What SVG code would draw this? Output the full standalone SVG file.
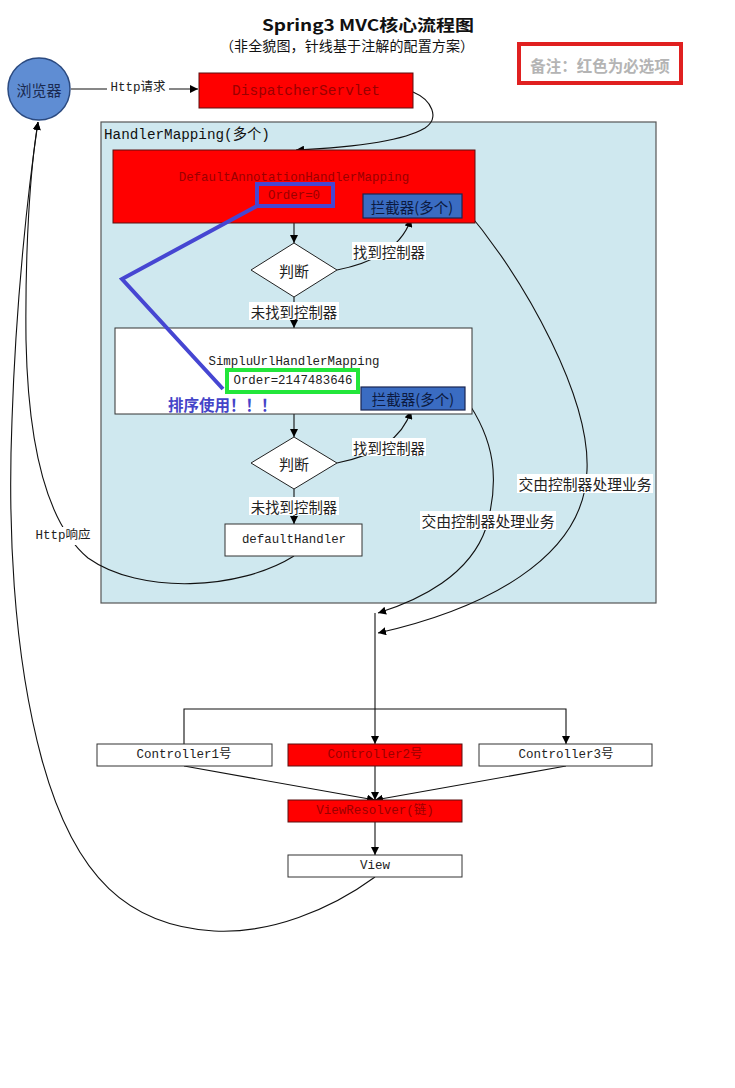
<svg xmlns="http://www.w3.org/2000/svg" width="735" height="1088" viewBox="0 0 735 1088">
<defs>
<marker id="arr" viewBox="0 0 10 10" refX="10" refY="5" markerWidth="8" markerHeight="8" markerUnits="userSpaceOnUse" orient="auto">
<path d="M0,0 L10,5 L0,10 Z" fill="#000"/>
</marker>
<style>
.ln{fill:none;stroke:#111;stroke-width:1.1}
.mono{font-family:"Liberation Mono","Noto Sans CJK SC",monospace;text-anchor:middle;dominant-baseline:central}
.cjk{font-family:"Noto Sans CJK SC","Liberation Sans",sans-serif;text-anchor:middle;dominant-baseline:central}
.red{fill:#ff0000;stroke:#5a1010;stroke-width:1}
.wht{fill:#fff;stroke:#333;stroke-width:1}
.icp{fill:#3a6cc2;stroke:#1a2550;stroke-width:1.2}
.lbl{fill:#fff}
.redtx{fill:#9a0000}
</style>
</defs>
<rect width="735" height="1088" fill="#fff"/>

<g id="title">
<text class="cjk" x="368" y="24" font-size="16" font-weight="bold" fill="#111" textLength="212" lengthAdjust="spacingAndGlyphs">Spring3 MVC核心流程图</text>
<text class="cjk" x="347" y="45" font-size="14" fill="#111" textLength="254" lengthAdjust="spacing">（非全貌图，针线基于注解的配置方案）</text>
</g>

<g id="note">
<rect x="519" y="44" width="162" height="39" fill="#fff" stroke="#e02020" stroke-width="4"/>
<text class="cjk" x="600" y="65" font-size="15.5" font-weight="bold" fill="#b4b4b4">备注：红色为必选项</text>
</g>

<g id="container">
<rect x="101" y="122" width="555" height="481" fill="#cfe8ef" stroke="#555" stroke-width="1.2"/>
<text x="104" y="135" font-family="'Liberation Mono','Noto Sans CJK SC',monospace" font-size="14.3" fill="#111" dominant-baseline="central">HandlerMapping(多个)</text>
</g>

<g id="connectors">
<line class="ln" x1="71" y1="89" x2="198" y2="89" marker-end="url(#arr)"/>
<path class="ln" d="M413,92 C432,100 440,118 425,128 C400,143 340,148 296,150" marker-end="url(#arr)"/>
<line class="ln" x1="294" y1="223" x2="294" y2="243" marker-end="url(#arr)"/>
<path class="ln" d="M337,270 Q398,258 411,219" marker-end="url(#arr)"/>
<line class="ln" x1="294" y1="297" x2="294" y2="328" marker-end="url(#arr)"/>
<line class="ln" x1="294" y1="414" x2="294" y2="437" marker-end="url(#arr)"/>
<path class="ln" d="M337,463 Q398,451 411,411" marker-end="url(#arr)"/>
<line class="ln" x1="294" y1="489" x2="294" y2="524" marker-end="url(#arr)"/>
<path class="ln" d="M462,205 C530,285 590,400 587,470 C585,560 480,610 378,633" marker-end="url(#arr)"/>
<path class="ln" d="M465,398 C495,440 500,480 486,528 C470,575 420,600 378,613" marker-end="url(#arr)"/>
<path class="ln" d="M294,556 C240,590 140,595 88,558 C45,522 28,440 26,340 C25,250 30,170 38,122" marker-end="url(#arr)"/>
<path class="ln" d="M375,877 C330,910 270,934 214,931 C130,926 75,880 42,760 C12,650 8,520 12,420 C16,300 28,190 38,122" marker-end="url(#arr)"/>
<line class="ln" x1="375" y1="613" x2="375" y2="744" marker-end="url(#arr)"/>
<polyline class="ln" points="184,744 184,709 566,709 566,744" marker-start="url(#arr)" marker-end="url(#arr)"/>
<line class="ln" x1="184" y1="766" x2="375" y2="800" marker-end="url(#arr)"/>
<line class="ln" x1="375" y1="766" x2="375" y2="800" marker-end="url(#arr)"/>
<line class="ln" x1="566" y1="766" x2="375" y2="800" marker-end="url(#arr)"/>
<line class="ln" x1="375" y1="822" x2="375" y2="855" marker-end="url(#arr)"/>
</g>

<g id="labels">
<rect class="lbl" x="107" y="80" width="62" height="17"/>
<text class="mono" x="138" y="88" font-size="12.5" fill="#222">Http请求</text>
<rect class="lbl" x="352" y="242" width="74" height="18"/>
<text class="cjk" x="389" y="251" font-size="14.4" fill="#222">找到控制器</text>
<rect class="lbl" x="249" y="302" width="90" height="18"/>
<text class="cjk" x="294" y="311" font-size="14.4" fill="#222">未找到控制器</text>
<rect class="lbl" x="352" y="438" width="74" height="18"/>
<text class="cjk" x="389" y="447" font-size="14.4" fill="#222">找到控制器</text>
<rect class="lbl" x="249" y="497" width="90" height="18"/>
<text class="cjk" x="294" y="506" font-size="14.4" fill="#222">未找到控制器</text>
<rect class="lbl" x="517" y="474" width="136" height="19"/>
<text class="cjk" x="585" y="483" font-size="14.8" fill="#222">交由控制器处理业务</text>
<rect class="lbl" x="420" y="511" width="136" height="19"/>
<text class="cjk" x="488" y="520" font-size="14.8" fill="#222">交由控制器处理业务</text>
<rect class="lbl" x="33" y="527" width="62" height="18"/>
<text class="mono" x="63" y="536" font-size="12.5" fill="#222">Http响应</text>
</g>

<g id="browser">
<circle cx="39" cy="89" r="31" fill="#5f8dd3" stroke="#2b4a80" stroke-width="1.5"/>
<text class="cjk" x="39" y="89" font-size="15" fill="#1a2a50">浏览器</text>
</g>

<g id="dispatcher">
<rect class="red" x="199" y="73" width="214" height="35"/>
<text class="mono redtx" x="306" y="91" font-size="14.5">DispatcherServlet</text>
</g>

<g id="defaultAnnotation">
<rect class="red" x="113" y="150" width="362" height="73"/>
<text class="mono redtx" x="294" y="178" font-size="12.4">DefaultAnnotationHandlerMapping</text>
<text class="mono redtx" x="294" y="196" font-size="12.4">Order=0</text>
</g>

<g id="interceptor1">
<rect class="icp" x="363" y="194" width="99" height="24"/>
<text class="cjk" x="412" y="206" font-size="14.5" fill="#0c1a40">拦截器(多个)</text>
</g>

<g id="judge1">
<polygon points="294,243 337,270 294,297 251,270" fill="#fff" stroke="#222" stroke-width="1"/>
<text class="cjk" x="294" y="270" font-size="15" fill="#222">判断</text>
</g>

<g id="simpleUrl">
<rect class="wht" x="115" y="328" width="357" height="86"/>
<text class="mono" x="294" y="362" font-size="12.4" fill="#222">SimpluUrlHandlerMapping</text>
<text class="mono" x="293" y="381" font-size="12.4" fill="#222">Order=2147483646</text>
</g>

<g id="interceptor2">
<rect class="icp" x="361" y="387" width="104" height="23"/>
<text class="cjk" x="413" y="398" font-size="14.5" fill="#0c1a40">拦截器(多个)</text>
</g>

<g id="judge2">
<polygon points="294,437 337,463 294,489 251,463" fill="#fff" stroke="#222" stroke-width="1"/>
<text class="cjk" x="294" y="463" font-size="15" fill="#222">判断</text>
</g>

<g id="defaultHandler">
<rect class="wht" x="225" y="524" width="137" height="32"/>
<text class="mono" x="294" y="540" font-size="12.4" fill="#222">defaultHandler</text>
</g>

<g id="annotation">
<rect x="257" y="184" width="76" height="22" fill="none" stroke="#4646d2" stroke-width="4"/>
<rect x="227" y="370" width="131" height="22" fill="none" stroke="#22e63a" stroke-width="4"/>
<polyline points="257,206 122,279 223,389" fill="none" stroke="#4646d2" stroke-width="4"/>
<text x="168" y="404" font-family="'Noto Sans CJK SC',sans-serif" font-size="15.5" font-weight="bold" fill="#4444c8" dominant-baseline="central">排序使用！！！</text>
</g>

<g id="controller1">
<rect class="wht" x="97" y="744" width="175" height="22"/>
<text class="mono" x="184" y="755" font-size="12.5" fill="#222">Controller1号</text>
</g>
<g id="controller2">
<rect class="red" x="288" y="744" width="174" height="22"/>
<text class="mono redtx" x="375" y="755" font-size="12.5">Controller2号</text>
</g>
<g id="controller3">
<rect class="wht" x="479" y="744" width="173" height="22"/>
<text class="mono" x="566" y="755" font-size="12.5" fill="#222">Controller3号</text>
</g>
<g id="viewResolver">
<rect class="red" x="288" y="800" width="174" height="22"/>
<text class="mono redtx" x="375" y="811" font-size="12.5">ViewResolver(链)</text>
</g>
<g id="view">
<rect class="wht" x="288" y="855" width="174" height="22"/>
<text class="mono" x="375" y="866" font-size="12.5" fill="#222">View</text>
</g>
</svg>
